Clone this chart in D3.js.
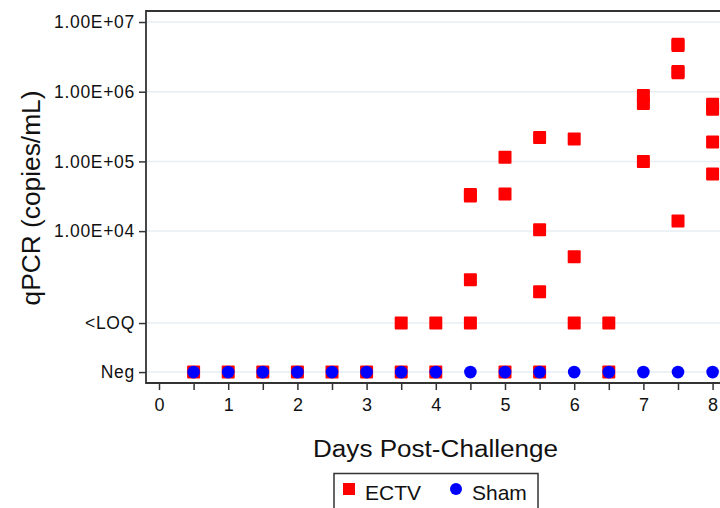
<!DOCTYPE html>
<html>
<head>
<meta charset="utf-8">
<script src="https://cdn.jsdelivr.net/npm/d3@7"></script>
<style>
  body { margin: 0; background: #fff; }
  svg { display: block; font-family: "Liberation Sans", Arial, sans-serif; }
</style>
</head>
<body>
<script>
// y tick labels and where the two categorical rows sit on the log scale
const yTickLabels = ["Neg", "<LOQ", "1.00E+04", "1.00E+05", "1.00E+06", "1.00E+07"];
const yTickValues = [95, 480, 1e4, 1e5, 1e6, 1e7];
const xTickLabels = [0, 1, 2, 3, 4, 5, 6, 7, 8];

// ECTV group (red squares): day, copies/mL ("Neg" / "<LOQ" for non-quantified)
const ectvDay = [0.5, 1, 1.5, 2, 2.5, 3, 3.5, 3.5, 4, 4,
  4.5, 4.5, 4.5, 4.5, 5, 5, 5, 5.5, 5.5, 5.5, 5.5,
  6, 6, 6, 6.5, 6.5, 7, 7, 7, 7.5, 7.5, 7.5, 7.5, 7.5,
  8, 8, 8, 8];
const ectvCopies = ["Neg", "Neg", "Neg", "Neg", "Neg", "Neg", "Neg", "<LOQ", "Neg", "<LOQ",
  "<LOQ", 2.0e3, 3.2e4, 3.35e4, "Neg", 3.4e4, 1.15e5, "Neg", 1.35e3, 1.05e4, 2.2e5,
  "<LOQ", 4.3e3, 2.1e5, "Neg", "<LOQ", 1.0e5, 6.8e5, 8.8e5, 1.4e4, 1.87e6, 1.95e6, 4.6e6, 4.8e6,
  6.6e4, 1.9e5, 5.6e5, 6.6e5];

// Sham group (blue circles): all negative
const shamDay = [0.5, 1, 1.5, 2, 2.5, 3, 3.5, 4, 4.5, 5, 5.5, 6, 6.5, 7, 7.5, 8];
const shamCopies = shamDay.map(() => "Neg");

const width = 720, height = 508;
const margin = { left: 146, top: 11, bottom: 383 };

const svg = d3.select("body").append("svg")
  .attr("width", width)
  .attr("height", height);

const x = d3.scaleLinear().domain([0, 8]).range([159, 712.6]);
const y = d3.scaleLog().domain([Math.pow(10, 1.821), Math.pow(10, 7.158)]).range([margin.bottom, margin.top]);

const toValue = v => v === "Neg" ? 95 : v === "<LOQ" ? 480 : v;

// gridlines
svg.append("g").selectAll("line")
  .data(yTickValues)
  .join("line")
  .attr("x1", margin.left).attr("x2", width)
  .attr("y1", d => y(d)).attr("y2", d => y(d))
  .attr("stroke", "#e6eef3")
  .attr("stroke-width", 1.5);

// y axis
const yAxis = d3.axisLeft(y)
  .tickValues(yTickValues)
  .tickFormat((d, i) => yTickLabels[i])
  .tickSize(7)
  .tickPadding(4);

svg.append("g")
  .attr("transform", `translate(${margin.left},0)`)
  .call(yAxis)
  .call(g => g.select(".domain").remove())
  .call(g => g.selectAll("line").attr("stroke", "#333").attr("stroke-width", 1.5))
  .call(g => g.selectAll("text").attr("font-size", 17.5).attr("fill", "#111")
    .attr("letter-spacing", 0.7).attr("font-family", "Liberation Sans, Arial, sans-serif"));

// x axis with half-day ticks
const xAxis = d3.axisBottom(x)
  .tickValues(d3.range(0, 8.51, 0.5))
  .tickFormat(d => Number.isInteger(d) && xTickLabels.includes(d) ? d : "")
  .tickSize(7)
  .tickPadding(8);

svg.append("g")
  .attr("transform", `translate(0,${margin.bottom})`)
  .call(xAxis)
  .call(g => g.select(".domain").remove())
  .call(g => g.selectAll("line").attr("stroke", "#333").attr("stroke-width", 1.5))
  .call(g => g.selectAll("text").attr("font-size", 18).attr("fill", "#111")
    .attr("font-family", "Liberation Sans, Arial, sans-serif"));

// frame
svg.append("path")
  .attr("d", `M${width + 2},${margin.top}H${margin.left}V${margin.bottom}H${width + 2}`)
  .attr("fill", "none")
  .attr("stroke", "#333")
  .attr("stroke-width", 1.8);

// ECTV squares
const sq = 13;
svg.append("g").selectAll("rect")
  .data(ectvDay.map((d, i) => ({ day: d, v: ectvCopies[i] })))
  .join("rect")
  .attr("x", d => x(d.day) - sq / 2)
  .attr("y", d => y(toValue(d.v)) - sq / 2)
  .attr("width", sq)
  .attr("height", sq)
  .attr("rx", 1)
  .attr("fill", "#ff0000");

// Sham circles
svg.append("g").selectAll("circle")
  .data(shamDay.map((d, i) => ({ day: d, v: shamCopies[i] })))
  .join("circle")
  .attr("cx", d => x(d.day))
  .attr("cy", d => y(toValue(d.v)))
  .attr("r", 6.3)
  .attr("fill", "#0000ff");

// axis titles
svg.append("text")
  .attr("transform", `translate(40,198) rotate(-90)`)
  .attr("text-anchor", "middle")
  .attr("font-size", 26)
  .attr("fill", "#111")
  .attr("textLength", 215)
  .attr("lengthAdjust", "spacingAndGlyphs")
  .text("qPCR (copies/mL)");

svg.append("text")
  .attr("x", 435.5)
  .attr("y", 457)
  .attr("text-anchor", "middle")
  .attr("font-size", 23.5)
  .attr("fill", "#111")
  .attr("textLength", 245)
  .attr("lengthAdjust", "spacingAndGlyphs")
  .text("Days Post-Challenge");

// legend
const legend = svg.append("g");
legend.append("rect")
  .attr("x", 334).attr("y", 473.5)
  .attr("width", 204).attr("height", 40)
  .attr("fill", "#fff")
  .attr("stroke", "#333")
  .attr("stroke-width", 1.5);
legend.append("rect")
  .attr("x", 343).attr("y", 483)
  .attr("width", 12).attr("height", 12)
  .attr("fill", "#ff0000");
legend.append("text")
  .attr("x", 365).attr("y", 500)
  .attr("font-size", 21).attr("fill", "#111")
  .text("ECTV");
legend.append("circle")
  .attr("cx", 456).attr("cy", 489)
  .attr("r", 6)
  .attr("fill", "#0000ff");
legend.append("text")
  .attr("x", 472).attr("y", 500)
  .attr("font-size", 21).attr("fill", "#111")
  .text("Sham");
</script>
</body>
</html>
